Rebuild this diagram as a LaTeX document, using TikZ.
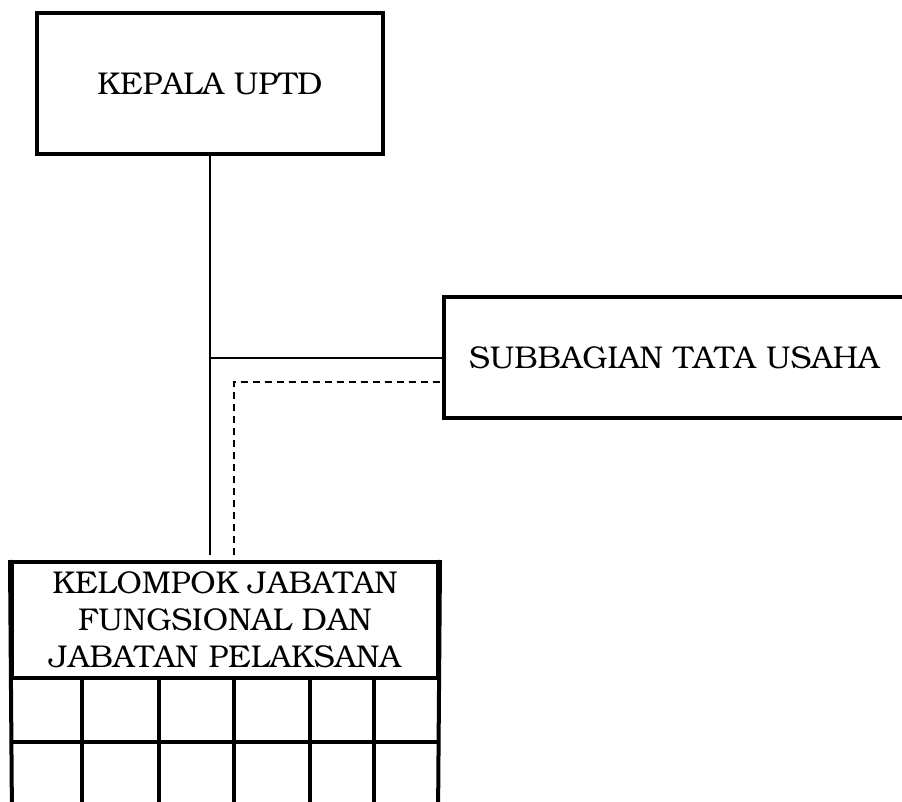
\documentclass[tikz,border=0pt]{standalone}
\usepackage[T1]{fontenc}
\usepackage{bookman}
\usetikzlibrary{calc}
\tikzset{
  boxstyle/.style={draw, line width=4pt, inner sep=0pt, font=\fontsize{31.5}{37}\selectfont},
  conn/.style={line width=2pt},
  dashconn/.style={line width=2pt, dash pattern=on 7pt off 5pt},
  gridline/.style={line width=4pt}
}
\begin{document}
\begin{tikzpicture}[x=1pt,y=-1pt]
\useasboundingbox (0,0) rectangle (902,802);
\clip (0,0) rectangle (902,802);
\node[boxstyle, minimum width=346pt, minimum height=141pt] (kepala) at (210,83.5) {KEPALA UPTD};
\node[boxstyle, anchor=west, minimum height=121pt, text width=480pt, inner xsep=25pt, align=left] (sub) at (442,357.5) {SUBBAGIAN TATA USAHA};
\node[boxstyle, minimum width=426pt, minimum height=116pt, align=center] (kel) at (225,620) {KELOMPOK JABATAN\\FUNGSIONAL DAN\\JABATAN PELAKSANA};
% grid below title
\draw[gridline] (kel.north west) -- (12,820) (kel.north east) -- (438,820);
\draw[gridline] (12,742) -- (438,742);
\foreach \x in {82,159,234,310,374} \draw[gridline] (\x,678) -- (\x,820);
% connectors
\coordinate (e1) at (210,555);
\coordinate (e2) at (234,555);
\draw[conn] (kepala.south) -- (e1);
\draw[conn] (kepala.south |- sub.west) -- (sub.west);
\draw[dashconn] (e2) |- ($(sub.west)+(0,24)$);
\end{tikzpicture}
\end{document}
